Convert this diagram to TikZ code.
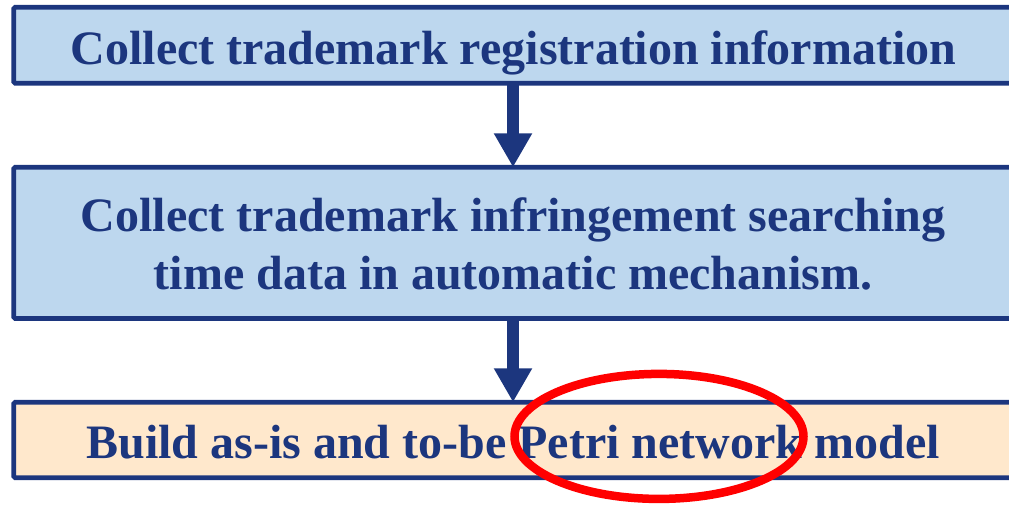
\documentclass[tikz,border=0pt]{standalone}
\usepackage{fontspec}
\setmainfont{Liberation Serif}
\usetikzlibrary{arrows.meta,shapes.geometric}
\definecolor{navy}{RGB}{28,54,126}
\definecolor{skyfill}{RGB}{189,215,238}
\definecolor{sandfill}{RGB}{255,232,204}
\definecolor{markred}{RGB}{255,0,0}
\begin{document}
\begin{tikzpicture}[x=1pt,y=-1pt,
  stepbox/.style={draw=navy, line width=4.8pt, rounded corners=1.5pt,
    minimum width=999.5pt, inner sep=0pt, outer sep=0pt},
  boxtext/.style={text=navy, font=\fontsize{48}{57}\selectfont\bfseries,
    anchor=base, inner sep=0pt, outer sep=0pt},
  flow/.style={draw=navy, line width=12.5pt,
    -{Triangle[width=36pt,length=34pt]}},
  highlight/.style={draw=markred, line width=8.5pt, ellipse, inner sep=0pt}]
\useasboundingbox (0,0) rectangle (1009,507);
\clip (0,0) rectangle (1009,507);

% process steps
\node[stepbox, fill=skyfill, minimum height=76pt] (collect) at (513.5,45.25) {};
\node[stepbox, fill=skyfill, minimum height=151.25pt] (search) at (513.5,242.9) {};
\node[stepbox, fill=sandfill, minimum height=75.5pt] (build) at (513.5,440) {};

% step texts
\node[boxtext] (collectText) at (513.5,64.3) {Collect trademark registration information};
\node[boxtext] (searchTextA) at (513,231.7) {Collect trademark infringement searching};
\node[boxtext] (searchTextB) at (513,289) {time data in automatic mechanism.};
\node[boxtext] (buildText) at (513,458.3) {Build as-is and to-be Petri network model};

% flow arrows
\draw[flow] (collect.south -| 513,0) -- (search.north -| 513,0);
\draw[flow] (search.south -| 513,0) -- (build.north -| 513,0);

% emphasis ring
\node[highlight, minimum width=289pt, minimum height=125pt] (ring) at (659,436.4) {};
\end{tikzpicture}
\end{document}
